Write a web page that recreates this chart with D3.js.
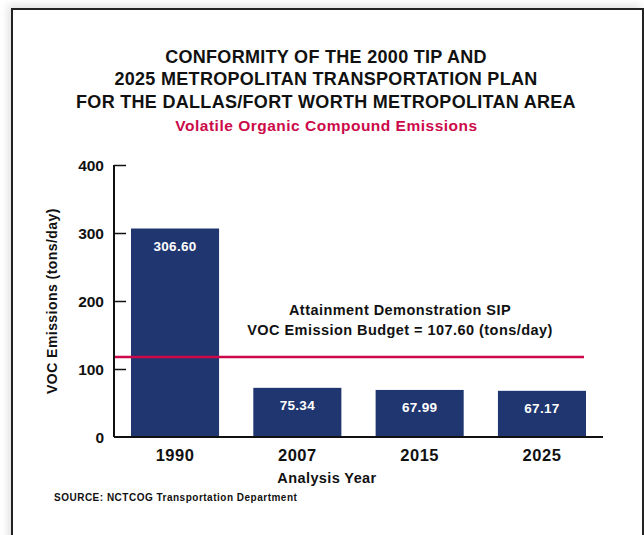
<!DOCTYPE html>
<html>
<head>
<meta charset="utf-8">
<script src="https://cdn.jsdelivr.net/npm/d3@7"></script>
<style>
  body { margin: 0; background: #fff; }
  #chart { position: relative; width: 644px; height: 535px; overflow: hidden; }
  .frame {
    position: absolute; left: 11px; top: 8px; width: 629px; height: 540px;
    border: 2px solid #222; box-shadow: -3px -3px 8px rgba(0,0,0,0.12);
  }
  svg { position: absolute; left: 0; top: 0; font-family: "Liberation Sans", Arial, sans-serif; }
</style>
</head>
<body>
<div id="chart"><div class="frame"></div></div>
<script>
const width = 644, height = 535;

const years = ["1990", "2007", "2015", "2025"];
const emissions = [306.60, 72.3, 69.2, 67.9];
const emissionLabels = ["306.60", "75.34", "67.99", "67.17"];
const yTicks = [0, 100, 200, 300, 400];
const budgetLine = 117.6;
const titleLines = [
  "CONFORMITY OF THE 2000 TIP AND",
  "2025 METROPOLITAN TRANSPORTATION PLAN",
  "FOR THE DALLAS/FORT WORTH METROPOLITAN AREA"
];
const subtitle = "Volatile Organic Compound Emissions";
const budgetText = ["Attainment Demonstration SIP", "VOC Emission Budget = 107.60 (tons/day)"];

const svg = d3.select("#chart")
  .append("svg")
  .attr("width", width)
  .attr("height", height);

const x = d3.scaleBand()
  .domain(years)
  .range([114, 603])
  .paddingInner(0.28)
  .paddingOuter(0.139);

const y = d3.scaleLinear()
  .domain([0, 400])
  .range([437, 165]);

// titles
svg.append("g")
  .selectAll("text")
  .data(titleLines)
  .join("text")
  .attr("x", 326)
  .attr("y", 62.5)
  .attr("dy", (d, i) => i * 22.5)
  .attr("text-anchor", "middle")
  .attr("font-size", 18)
  .attr("letter-spacing", 0.3)
  .attr("font-weight", "bold")
  .attr("fill", "#111")
  .text(d => d);

svg.append("text")
  .attr("x", 326.5)
  .attr("y", 131)
  .attr("text-anchor", "middle")
  .attr("font-size", 15.5)
  .attr("letter-spacing", 0.5)
  .attr("font-weight", "bold")
  .attr("fill", "#cc0a4a")
  .text(subtitle);

// bars
svg.append("g")
  .selectAll("rect")
  .data(years)
  .join("rect")
  .attr("x", d => x(d))
  .attr("y", (d, i) => y(emissions[i]))
  .attr("width", x.bandwidth())
  .attr("height", (d, i) => y(0) - y(emissions[i]))
  .attr("fill", "#203670");

svg.append("g")
  .selectAll("text")
  .data(years)
  .join("text")
  .attr("x", d => x(d) + x.bandwidth() / 2)
  .attr("y", (d, i) => y(emissions[i]) + 22)
  .attr("text-anchor", "middle")
  .attr("font-size", 13.5)
  .attr("letter-spacing", 0.3)
  .attr("font-weight", "bold")
  .attr("fill", "#fff")
  .text((d, i) => emissionLabels[i]);

// budget line
svg.append("line")
  .attr("x1", 114)
  .attr("x2", 584)
  .attr("y1", y(budgetLine))
  .attr("y2", y(budgetLine))
  .attr("stroke", "#cc0a4a")
  .attr("stroke-width", 2.5);

svg.append("g")
  .selectAll("text")
  .data(budgetText)
  .join("text")
  .attr("x", 400)
  .attr("y", 315)
  .attr("dy", (d, i) => i * 20)
  .attr("text-anchor", "middle")
  .attr("font-size", 14.5)
  .attr("letter-spacing", 0.45)
  .attr("font-weight", "bold")
  .attr("fill", "#111")
  .text(d => d);

// y axis
const yAxis = svg.append("g")
  .attr("transform", "translate(114,0)")
  .call(d3.axisRight(y).tickValues(yTicks).tickSize(12).tickFormat(""));
yAxis.select(".domain").attr("d", `M0,${y(400)}V${y(0)}`).attr("stroke", "#111").attr("stroke-width", 2);
yAxis.selectAll(".tick line").attr("stroke", "#111").attr("stroke-width", 1.5);
yAxis.selectAll(".tick").filter(d => d === 0).remove();

svg.append("g")
  .selectAll("text")
  .data(yTicks)
  .join("text")
  .attr("x", 104)
  .attr("y", d => y(d) + 6)
  .attr("text-anchor", "end")
  .attr("font-size", 15.5)
  .attr("font-weight", "bold")
  .attr("fill", "#111")
  .text(d => d);

svg.append("text")
  .attr("transform", `translate(57,${y(200)}) rotate(-90)`)
  .attr("text-anchor", "middle")
  .attr("font-size", 14)
  .attr("letter-spacing", 0.45)
  .attr("font-weight", "bold")
  .attr("fill", "#111")
  .text("VOC Emissions (tons/day)");

// x axis
const xAxis = svg.append("g")
  .attr("transform", `translate(0,${y(0)})`)
  .call(d3.axisBottom(x).tickSize(0).tickPadding(12));
xAxis.select(".domain").attr("d", "M114,0H603").attr("stroke", "#111").attr("stroke-width", 2);
xAxis.selectAll(".tick text")
  .attr("font-family", "Liberation Sans, Arial, sans-serif")
  .attr("font-size", 16.5)
  .attr("letter-spacing", 0.5)
  .attr("font-weight", "bold")
  .attr("fill", "#111");

svg.append("text")
  .attr("x", 327)
  .attr("y", 483)
  .attr("text-anchor", "middle")
  .attr("font-size", 14.5)
  .attr("letter-spacing", 0.4)
  .attr("font-weight", "bold")
  .attr("fill", "#111")
  .text("Analysis Year");

svg.append("text")
  .attr("x", 54)
  .attr("y", 501)
  .attr("font-size", 10)
  .attr("letter-spacing", 0.5)
  .attr("font-weight", "bold")
  .attr("fill", "#111")
  .text("SOURCE: NCTCOG Transportation Department");
</script>
</body>
</html>
